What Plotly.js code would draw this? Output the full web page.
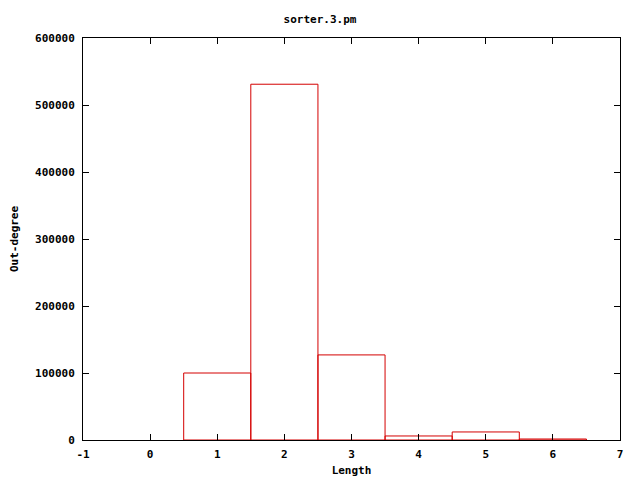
<!DOCTYPE html>
<html>
<head>
<meta charset="utf-8">
<script src="https://cdn.plot.ly/plotly-3.0.1.min.js"></script>
<style>html,body{margin:0;padding:0;background:#fff;}#chart{width:640px;height:480px;}</style>
</head>
<body>
<div id="chart"></div>
<script>
var lengths = [1, 2, 3, 4, 5, 6];
var outDegree = [100000, 531000, 127000, 6000, 12000, 1500];
var xTicks = [-1, 0, 1, 2, 3, 4, 5, 6, 7];
var yTicks = [0, 100000, 200000, 300000, 400000, 500000, 600000];

var font = {family: "DejaVu Sans Mono, Liberation Mono, monospace", size: 11, color: "#000"};

var trace = {
  type: "bar",
  x: lengths,
  y: outDegree,
  width: 1,
  marker: {color: "rgba(255,255,255,0)", line: {color: "#d40000", width: 1}},
  hoverinfo: "x+y"
};

var layout = {
  width: 640, height: 480,
  margin: {l: 83, r: 20, t: 38, b: 40},
  paper_bgcolor: "#fff", plot_bgcolor: "#fff",
  font: font,
  showlegend: false,
  title: {text: "<b>sorter.3.pm</b>", font: font, x: 0.5, xanchor: "center", y: 0.96, yanchor: "middle"},
  xaxis: {
    range: [-1, 7], tickvals: xTicks, ticktext: xTicks.map(function(v){return "<b>"+v+"</b>";}),
    ticks: "inside", ticklen: 6, tickcolor: "#000", mirror: "ticks", ticklabelstandoff: 4,
    showline: true, linecolor: "#000", linewidth: 1, showgrid: false, zeroline: false,
    title: {text: "<b>Length</b>", font: font, standoff: 6}
  },
  yaxis: {
    range: [0, 600000], tickvals: yTicks, ticktext: yTicks.map(function(v){return "<b>"+v+"</b>";}),
    ticks: "inside", ticklen: 6, tickcolor: "#000", mirror: "ticks", ticklabelstandoff: 5,
    showline: true, linecolor: "#000", linewidth: 1, showgrid: false, zeroline: false,
    title: {text: "<b>Out-degree</b>", font: font, standoff: 14}
  }
};

Plotly.newPlot("chart", [trace], layout, {displayModeBar: false, staticPlot: true});
</script>
</body>
</html>
